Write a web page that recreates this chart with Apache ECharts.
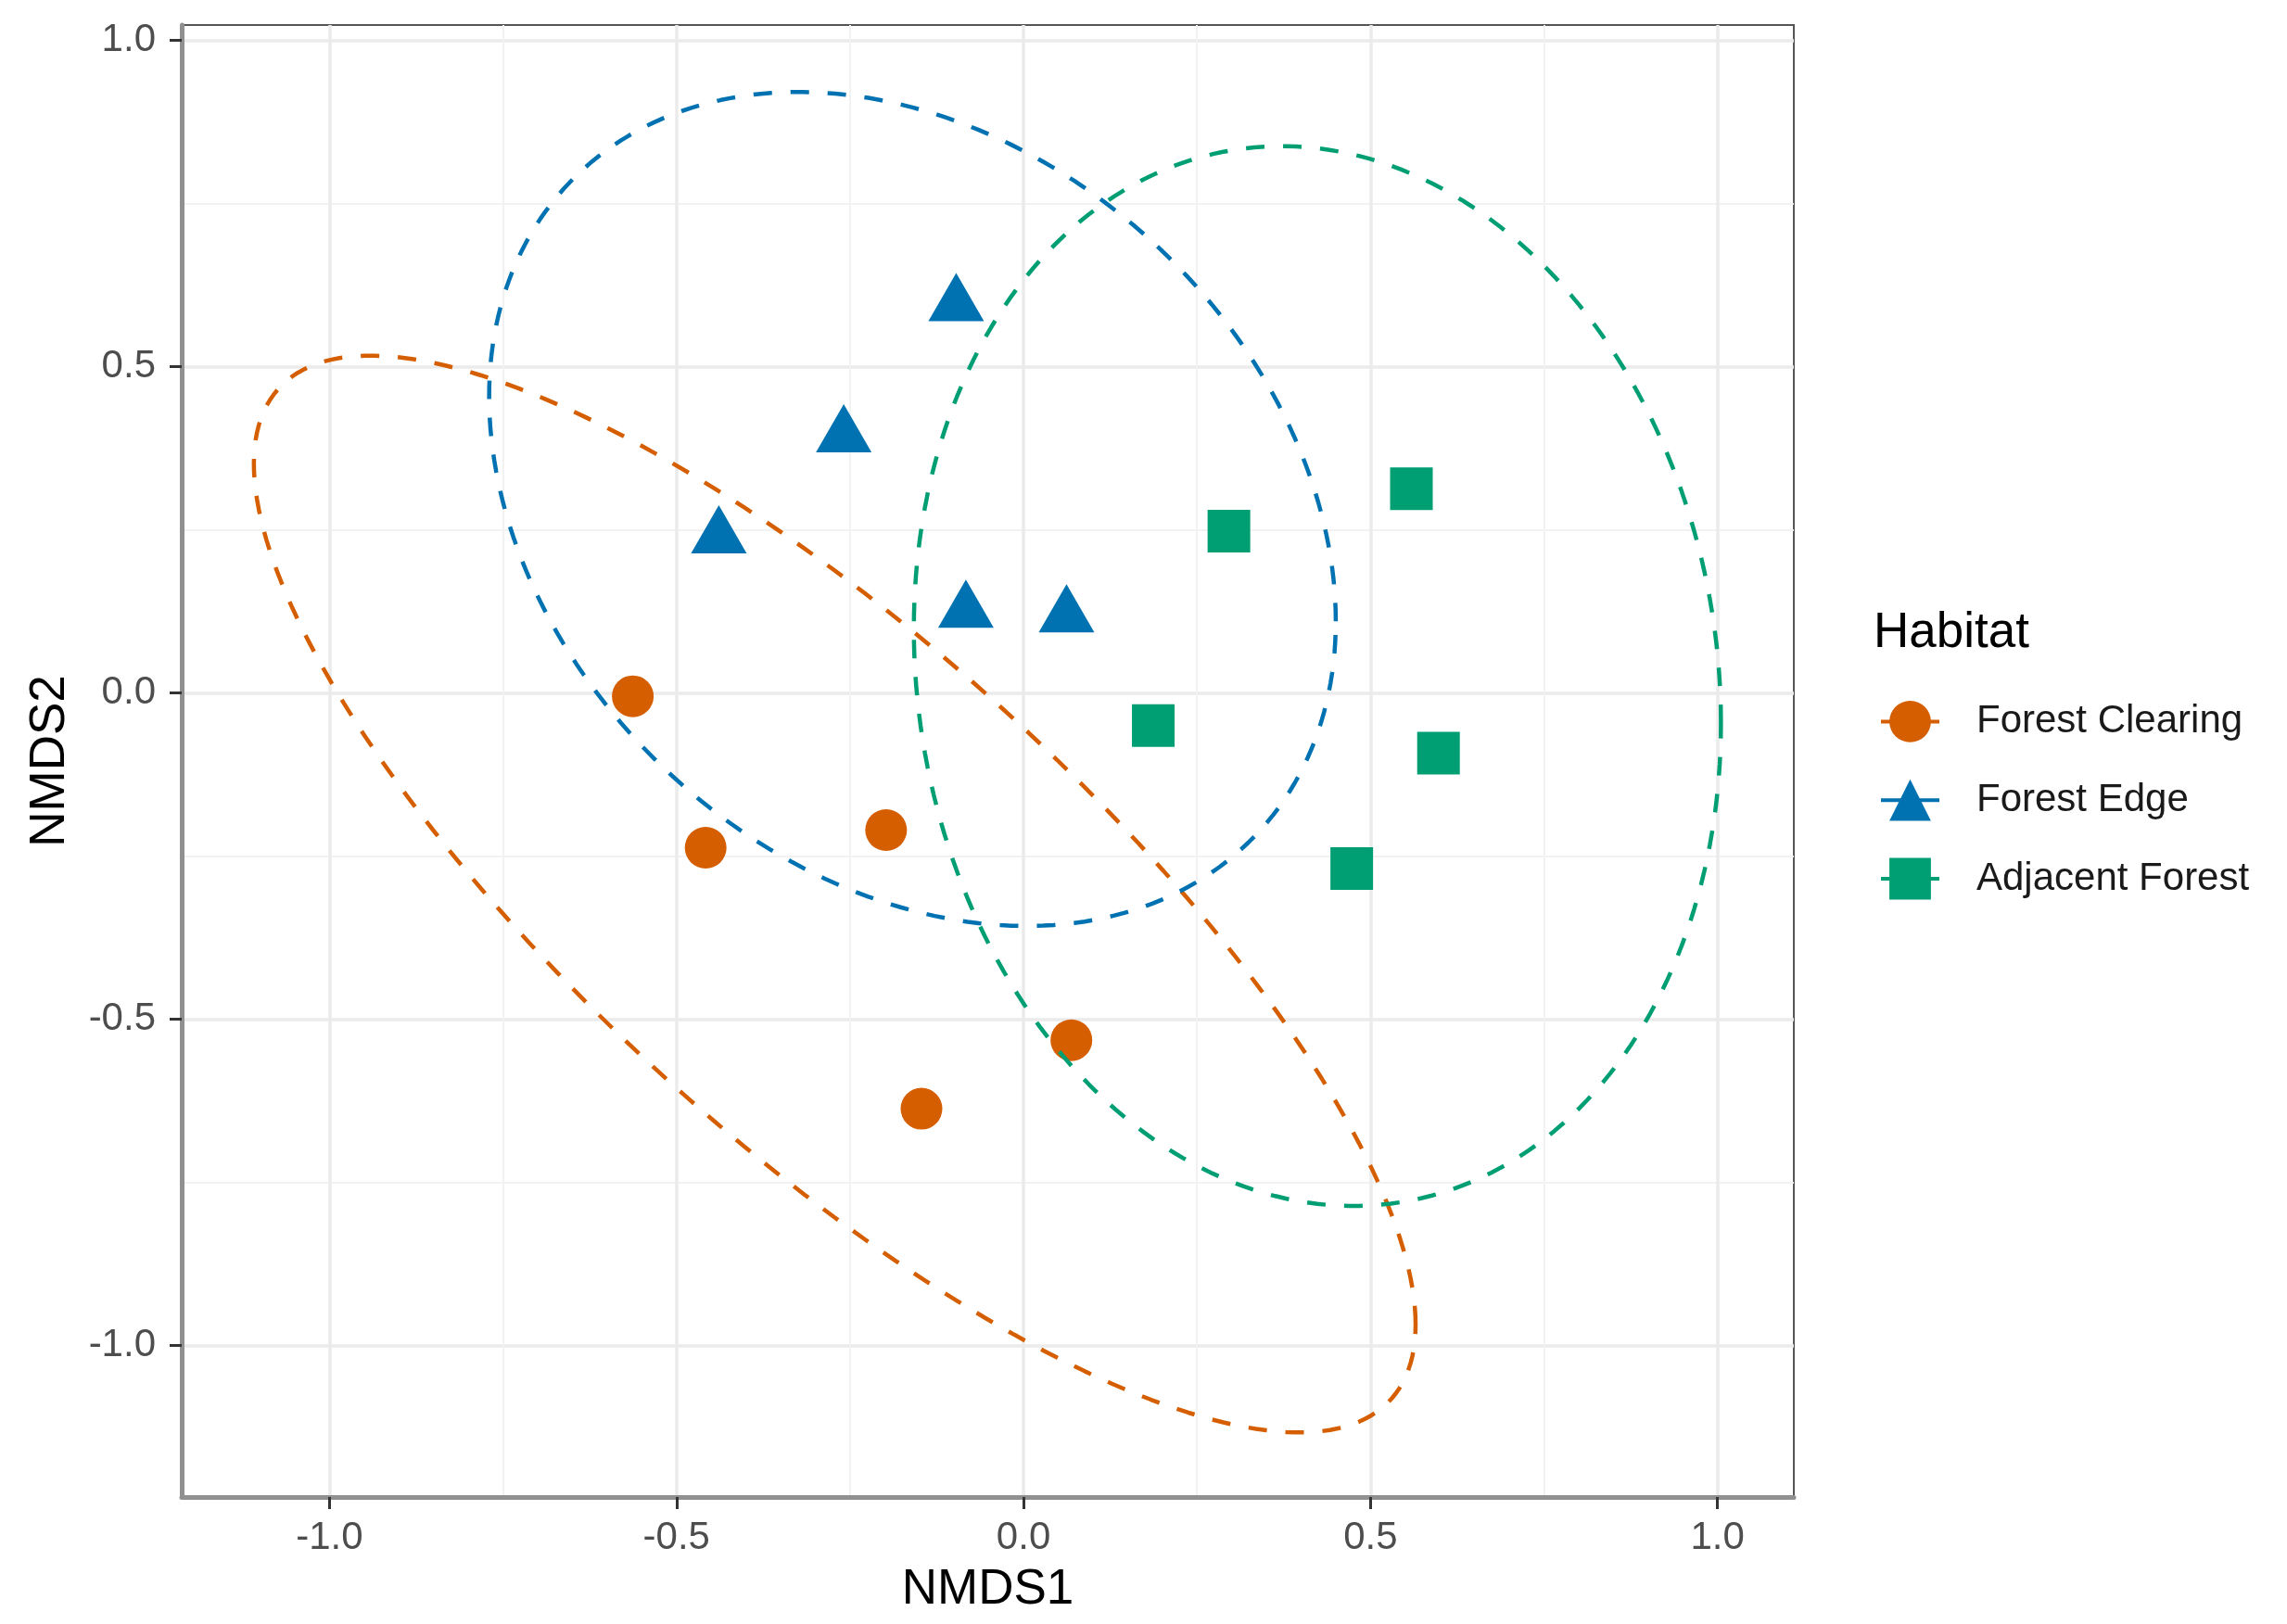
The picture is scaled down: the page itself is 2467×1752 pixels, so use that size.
<!DOCTYPE html>
<html>
<head>
<meta charset="utf-8">
<title>NMDS by habitat</title>
<script src="https://cdn.jsdelivr.net/npm/echarts@6/dist/echarts.min.js"></script>
<style>
  html, body { margin: 0; padding: 0; background: #fff; }
  #chart { width: 2467px; height: 1752px; }
</style>
</head>
<body>
<div id="chart"></div>
<script>
// groups, colours and point shapes
const habitats = ['Forest Clearing', 'Forest Edge', 'Adjacent Forest'];
const colors = ['#D55E00', '#0072B2', '#009E73'];
const shapes = ['circle', 'triangle', 'rect'];

// NMDS scores
const clearingX = [-0.563, -0.458, -0.198, 0.069, -0.147];
const clearingY = [-0.005, -0.237, -0.210, -0.532, -0.637];
const edgeX = [-0.097, -0.259, -0.439, -0.083, 0.062];
const edgeY = [0.594, 0.393, 0.238, 0.124, 0.117];
const adjacentX = [0.296, 0.559, 0.187, 0.598, 0.473];
const adjacentY = [0.248, 0.313, -0.050, -0.092, -0.269];

// dashed ellipses (same order as habitats): centre, half width, half height, tilt term
const ellipseCx = [-0.272, -0.160, 0.4235];
const ellipseCy = [-0.308, 0.282, 0.026];
const ellipseRx = [0.837, 0.610, 0.5815];
const ellipseRy = [0.825, 0.639, 0.812];
const ellipseCov = [-0.552, -0.105, -0.042];

// axis breaks
const tickValues = [-1, -0.5, 0, 0.5, 1];

const font = '"Liberation Sans", Arial, sans-serif';

function zipPoints(xs, ys) {
  return xs.map((x, i) => [x, ys[i]]);
}

// outline of one ellipse from its centre / spread values
function ellipsePath(i) {
  const l21 = ellipseCov[i] / ellipseRx[i];
  const l22 = Math.sqrt(ellipseRy[i] * ellipseRy[i] - l21 * l21);
  const pts = [];
  const n = 240;
  for (let k = 0; k <= n; k++) {
    const t = k / n * 2 * Math.PI;
    pts.push([
      ellipseCx[i] + ellipseRx[i] * Math.cos(t),
      ellipseCy[i] + l21 * Math.cos(t) + l22 * Math.sin(t)
    ]);
  }
  return pts;
}

const points = [
  zipPoints(clearingX, clearingY),
  zipPoints(edgeX, edgeY),
  zipPoints(adjacentX, adjacentY)
];
const symbolSizes = [45, [60, 52], 46];
const symbolOffsets = [[0, 0], [0, -9], [0, 0]];

// ellipse lines go first so the legend picks up the line + symbol icon,
// but they sit above the points (z)
const series = [];
habitats.forEach((name, i) => {
  series.push({
    name: name,
    type: 'line',
    data: ellipsePath(i),
    showSymbol: false,
    symbol: shapes[i],
    smooth: false,
    z: 3,
    silent: true,
    itemStyle: { color: colors[i] },
    lineStyle: { color: colors[i], width: 4.5, type: [20, 20] }
  });
});
habitats.forEach((name, i) => {
  series.push({
    name: name,
    type: 'scatter',
    data: points[i],
    symbol: shapes[i],
    symbolSize: symbolSizes[i],
    symbolOffset: symbolOffsets[i],
    z: 2,
    itemStyle: { color: colors[i], opacity: 1 }
  });
});

function axisCommon(labelMargin) {
  return {
    type: 'value',
    minInterval: 0.5,
    maxInterval: 0.5,
    axisLine: { show: true, onZero: false, lineStyle: { color: '#909090', width: 5 } },
    axisTick: { show: true, length: 13, customValues: tickValues, lineStyle: { color: '#333333', width: 3 } },
    axisLabel: {
      customValues: tickValues,
      margin: labelMargin,
      fontSize: 42,
      color: '#4D4D4D',
      fontFamily: font,
      formatter: v => v.toFixed(1)
    },
    splitLine: { show: true, lineStyle: { color: '#EBEBEB', width: 3.5 } },
    minorTick: { show: false, splitNumber: 2 },
    minorSplitLine: { show: true, lineStyle: { color: '#F2F2F2', width: 2 } },
    nameLocation: 'middle',
    nameTextStyle: { fontSize: 53, color: '#000000', fontFamily: font }
  };
}

const chart = echarts.init(document.getElementById('chart'));
chart.setOption({
  backgroundColor: '#ffffff',
  animation: false,
  title: {
    text: 'Habitat',
    left: 2016,
    top: 652,
    textStyle: { fontSize: 53, fontWeight: 'normal', color: '#000000', fontFamily: font }
  },
  legend: {
    orient: 'vertical',
    left: 2022,
    top: 751,
    itemWidth: 63,
    itemHeight: 56,
    itemGap: 40,
    selectedMode: false,
    data: habitats,
    lineStyle: { type: 'solid', width: 4 },
    textStyle: { fontSize: 42, color: '#1A1A1A', fontFamily: font, padding: [0, 0, 0, 35] }
  },
  grid: {
    left: 196,
    top: 27,
    width: 1739,
    height: 1588,
    show: true,
    borderColor: '#555555',
    borderWidth: 2,
    backgroundColor: '#ffffff'
  },
  xAxis: Object.assign(axisCommon(23), {
    min: -1.213,
    max: 1.110,
    name: 'NMDS1',
    nameGap: 74
  }),
  yAxis: Object.assign(axisCommon(28), {
    min: -1.232,
    max: 1.0236,
    name: 'NMDS2',
    nameGap: 115,
    nameRotate: 90
  }),
  series: series
});
</script>
</body>
</html>
